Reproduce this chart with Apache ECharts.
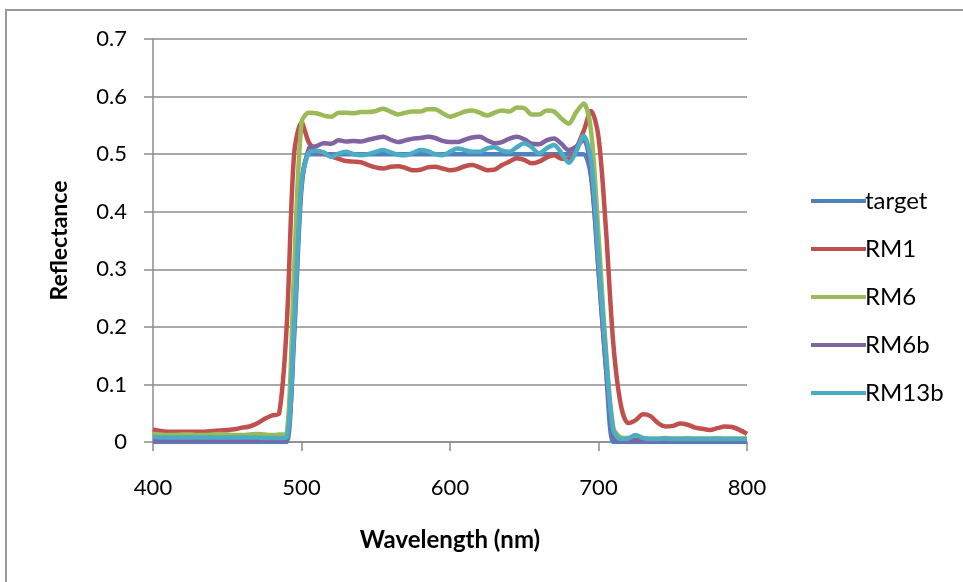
<!DOCTYPE html>
<html>
<head>
<meta charset="utf-8">
<script src="https://cdn.jsdelivr.net/npm/echarts@6/dist/echarts.min.js"></script>
<style>
html,body{margin:0;padding:0;background:#fff;}
#chart{width:963px;height:582px;}
</style>
</head>
<body>
<div id="chart"></div>
<script>
var wavelengths = [];
for (var w = 400; w <= 800; w += 5) wavelengths.push(w);

var seriesNames = ['target', 'RM1', 'RM6', 'RM6b', 'RM13b'];

var target = [0,0,0,0,0,0,0,0,0,0,0,0,0,0,0,0,0,0,
  0.0, 0.20, 0.45,
  0.5,0.5,0.5,0.5,0.5,0.5,0.5,0.5,0.5,0.5,0.5,0.5,0.5,0.5,0.5,0.5,0.5,0.5,0.5,0.5,
  0.5,0.5,0.5,0.5,0.5,0.5,0.5,0.5,0.5,0.5,0.5,0.5,0.5,0.5,0.5,0.5,0.5,0.5,
  0.46, 0.30, 0.13, 0.0,
  0,0,0,0,0,0,0,0,0,0,0,0,0,0,0,0,0,0];

var rm1 = [0.022,0.019,0.018,0.018,0.018,0.018,0.018,0.018,0.019,0.020,0.021,0.022,0.025,0.027,0.032,0.040,0.046,0.050,
  0.20, 0.50, 0.555,
  0.520,0.505,0.501,0.496,0.492,0.488,0.487,0.486,0.481,0.477,
  0.475,0.478,0.479,0.476,0.472,0.473,0.477,0.478,0.475,0.472,
  0.474,0.479,0.481,0.477,0.472,0.473,0.481,0.487,0.493,0.490,
  0.484,0.487,0.494,0.498,0.492,0.492,0.510,0.540,
  0.575, 0.530, 0.370, 0.170,
  0.065,0.033,0.038,0.048,0.045,0.033,0.027,0.028,0.032,0.030,0.025,0.023,0.021,0.024,0.027,0.026,0.021,0.014];

var rm6 = [0.014,0.013,0.012,0.012,0.013,0.013,0.012,0.012,0.013,0.014,0.013,0.012,0.012,0.013,0.014,0.013,0.012,0.013,
  0.015, 0.30, 0.555,
  0.572,0.571,0.567,0.565,0.572,0.572,0.571,0.573,0.573,0.575,
  0.579,0.574,0.569,0.572,0.574,0.574,0.578,0.578,0.571,0.565,
  0.569,0.574,0.576,0.572,0.567,0.572,0.576,0.574,0.581,0.580,
  0.569,0.569,0.576,0.574,0.562,0.553,0.573,0.588,
  0.540, 0.360, 0.160, 0.025,
  0.008,0.007,0.010,0.007,0.006,0.006,0.007,0.006,0.006,0.007,0.006,0.006,0.006,0.007,0.006,0.006,0.006,0.006];

var rm6b = [0.003,0.003,0.003,0.003,0.003,0.003,0.003,0.003,0.003,0.003,0.003,0.003,0.003,0.003,0.003,0.003,0.003,0.003,
  0.004, 0.18, 0.44,
  0.510,0.514,0.519,0.518,0.524,0.522,0.523,0.522,0.525,0.528,
  0.530,0.525,0.521,0.524,0.527,0.528,0.530,0.528,0.523,0.521,
  0.521,0.525,0.529,0.530,0.524,0.519,0.521,0.527,0.530,0.526,
  0.518,0.517,0.524,0.527,0.518,0.507,0.513,0.525,
  0.470, 0.300, 0.130, 0.010,
  0.003,0.003,0.003,0.003,0.003,0.003,0.003,0.003,0.003,0.003,0.003,0.003,0.003,0.003,0.003,0.003,0.003,0.003];

var rm13b = [0.009,0.008,0.008,0.008,0.008,0.008,0.008,0.008,0.008,0.008,0.008,0.008,0.008,0.008,0.008,0.007,0.007,0.007,
  0.008, 0.20, 0.45,
  0.503,0.506,0.503,0.495,0.501,0.504,0.500,0.498,0.500,0.504,
  0.507,0.503,0.499,0.498,0.502,0.507,0.505,0.500,0.498,0.504,
  0.510,0.507,0.504,0.504,0.510,0.512,0.506,0.504,0.512,0.519,
  0.512,0.501,0.510,0.516,0.502,0.485,0.505,0.532,
  0.490, 0.320, 0.150, 0.020,
  0.005,0.006,0.012,0.007,0.005,0.005,0.006,0.005,0.005,0.005,0.005,0.005,0.005,0.005,0.005,0.005,0.005,0.005];

var xTicks = [400, 500, 600, 700, 800];
var yTicks = [0, 0.1, 0.2, 0.3, 0.4, 0.5, 0.6, 0.7];

var colors = ['#4F81BD', '#C0504D', '#9BBB59', '#8064A2', '#4BACC6'];
var allValues = [target, rm1, rm6, rm6b, rm13b];

function pairs(vals) {
  return wavelengths.map(function (w, i) { return [w, vals[i]]; });
}

var FONT = 'Lato, "Open Sans", sans-serif';
var TXT = '#000';
var chart = echarts.init(document.getElementById('chart'), null, {renderer: 'canvas'});

var series = seriesNames.map(function (name, i) {
  return {
    name: name,
    type: 'line',
    data: pairs(allValues[i]),
    symbol: 'none',
    showSymbol: false,
    smooth: 0.3,
    lineStyle: {width: 4.5, color: colors[i]},
    itemStyle: {color: colors[i]},
    animation: false,
    z: 2 + i
  };
});

chart.setOption({
  animation: false,
  backgroundColor: '#fff',
  color: colors,
  graphic: [{
    type: 'rect',
    shape: {x: 6, y: 10, width: 1000, height: 1000},
    style: {fill: 'none', stroke: '#9a9a9a', lineWidth: 2},
    silent: true,
    z: -1
  }],
  grid: {left: 153, right: 216, top: 39, bottom: 140},
  xAxis: {
    type: 'value',
    min: xTicks[0],
    max: xTicks[xTicks.length - 1],
    interval: 100,
    name: 'Wavelength (nm)',
    nameLocation: 'middle',
    nameGap: 86,
    nameTextStyle: {fontFamily: FONT, fontWeight: 'bold', fontSize: 24, color: TXT},
    axisLine: {show: true, lineStyle: {color: '#8c8c8c', width: 1.5}},
    axisTick: {show: true, inside: false, length: 9, lineStyle: {color: '#8c8c8c', width: 1.5}},
    axisLabel: {fontFamily: FONT, fontSize: 22, color: TXT, margin: 35},
    splitLine: {show: false}
  },
  yAxis: {
    type: 'value',
    min: yTicks[0],
    max: yTicks[yTicks.length - 1],
    interval: 0.1,
    name: 'Reflectance',
    nameLocation: 'middle',
    nameGap: 82,
    nameRotate: 90,
    nameTextStyle: {fontFamily: FONT, fontWeight: 'bold', fontSize: 23, color: TXT},
    axisLine: {show: true, lineStyle: {color: '#8c8c8c', width: 1.5}},
    axisTick: {show: true, inside: false, length: 9, lineStyle: {color: '#8c8c8c', width: 1.5}},
    axisLabel: {fontFamily: FONT, fontSize: 22, color: TXT, margin: 26},
    splitLine: {show: true, lineStyle: {color: '#8c8c8c', width: 1.5}}
  },
  legend: {
    orient: 'vertical',
    left: 806,
    top: 184,
    icon: 'rect',
    itemWidth: 55,
    itemHeight: 4,
    itemGap: 24,
    data: seriesNames,
    textStyle: {fontFamily: FONT, fontSize: 24, color: TXT, padding: [0, 0, 0, -6]}
  },
  series: series
});
</script>
</body>
</html>
